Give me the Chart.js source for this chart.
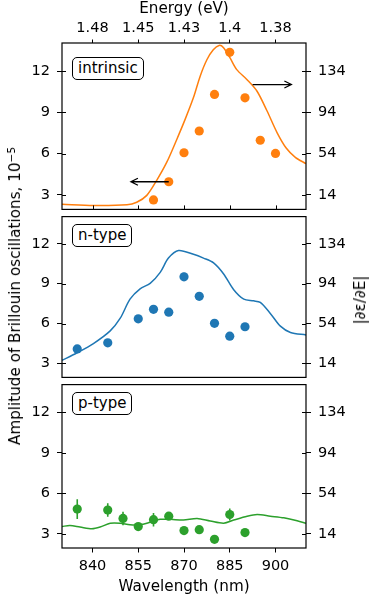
<!DOCTYPE html>
<html lang="en">
<head>
  <meta charset="UTF-8">
  <title>Brillouin oscillations</title>
  <script src="https://cdn.jsdelivr.net/npm/chart.js"></script>
  <style>
    body {
      margin: 0;
      background: #fff;
      font-family: "DejaVu Sans", sans-serif;
    }

    .figure {
      position: relative;
      width: 374px;
      height: 598px;
      overflow: hidden;
    }

    .figure canvas {
      position: absolute;
      left: 0;
    }

    .ytitle {
      position: absolute;
      font-size: 15.2px;
      white-space: nowrap;
      transform: translate(-50%, -50%) rotate(-90deg);
      color: #000;
    }

    .ytitle sup {
      font-size: 70%;
      vertical-align: 0.5em;
      line-height: 0;
    }

    .tag {
      position: absolute;
      font-size: 15px;
      line-height: 21px;
      padding: 0 5px;
      border: 1.3px solid #000;
      border-radius: 5px;
      background: #fff;
      color: #000;
    }
  </style>
</head>
<body>
  <div class="figure">
    <canvas id="panelTop" width="374" height="214" style="top:0"></canvas>
    <canvas id="panelMid" width="374" height="170" style="top:212px"></canvas>
    <canvas id="panelBot" width="374" height="218" style="top:380px"></canvas>

    <div class="ytitle" style="left:15px; top:296px">Amplitude of Brillouin oscillations, 10<sup>−5</sup></div>
    <div class="ytitle" style="left:360px; top:300px">|∂ε/∂E|</div>

    <div class="tag" style="left:72px; top:57px">intrinsic</div>
    <div class="tag" style="left:72px; top:224px">n-type</div>
    <div class="tag" style="left:72px; top:392px">p-type</div>
  </div>

  <script>
    // axes
    const wavelengthTicks = [840, 855, 870, 885, 900];
    const energyLabels = ['1.48', '1.45', '1.43', '1.4', '1.38'];
    const ampTicks = [3, 6, 9, 12];
    const derivTicks = [14, 54, 94, 134];

    // intrinsic
    const intrinsicWl = [860, 865, 870, 875, 880, 885, 890, 895, 900];
    const intrinsicAmp = [2.64, 3.96, 6.07, 7.65, 10.31, 13.37, 10.06, 6.98, 6.02];
    const intrinsicCurveWl = [830, 840.3, 851.3, 854.5, 857.8, 861.1, 864.4, 867.7, 870.4, 873.1, 875.3, 877.5, 879.6, 881.5, 882.9, 885.1, 887.3, 890.6, 893.9, 897.2, 900.5, 903.5, 906.5, 910];
    const intrinsicCurve = [5.0, 3.7, 4.4, 6.9, 13.6, 28.4, 46.0, 68.3, 87.5, 108.4, 129.2, 145.1, 154.7, 159.0, 157.0, 146.8, 135.5, 126.0, 114.8, 95.6, 74.5, 59.5, 50.5, 44.3];

    // n-type
    const nWl = [835, 845, 855, 860, 865, 870, 875, 880, 885, 890];
    const nAmp = [4.09, 4.55, 6.36, 7.07, 6.86, 9.52, 8.05, 6.02, 5.05, 5.76];
    const nErr = [0.1, 0.1, 0.15, 0.2, 0.15, 0.3, 0.2, 0.15, 0.15, 0.15];
    const nCurveWl = [830, 834.8, 840.3, 845.8, 849.1, 852.3, 855.6, 858.9, 862.2, 864.9, 868.2, 873.1, 876.4, 879.7, 883, 886.3, 889.6, 892.8, 895, 898.3, 901.6, 904.9, 910];
    const nCurve = [17.1, 24.5, 34.0, 46.7, 59.4, 78.5, 88.9, 94.3, 105.4, 119.7, 127.3, 123.5, 119.7, 114.9, 103.8, 88.0, 78.5, 76.8, 75.2, 64.2, 51.4, 45.1, 42.6];

    // p-type
    const pWl = [835, 845, 850, 855, 860, 865, 870, 875, 880, 885, 890];
    const pAmp = [4.83, 4.76, 4.14, 3.54, 4.05, 4.31, 3.24, 3.31, 2.59, 4.43, 3.09];
    const pErr = [0.73, 0.5, 0.5, 0.15, 0.5, 0.2, 0.1, 0.1, 0.1, 0.45, 0.1];
    const pCurveWl = [830, 832.6, 835.9, 839.8, 842.5, 845.8, 849.1, 852.3, 855.6, 858.9, 862.2, 865.5, 869.8, 874.3, 878.6, 883, 886.3, 890.7, 894, 898.3, 902.7, 907.1, 910];
    const pCurve = [21.2, 22.2, 20.7, 19.0, 20.7, 24.5, 24.5, 22.9, 22.9, 25.4, 28.3, 28.3, 27.6, 29.2, 26.7, 24.5, 27.6, 31.4, 33.0, 31.4, 29.8, 26.9, 24.3];

    // arrows in the intrinsic panel: [from wavelength, to wavelength, amplitude]
    const arrowToLeft = [865, 852.6, 3.96];
    const arrowToRight = [892.5, 905.2, 11.03];

    const ORANGE = '#ff7f0e';
    const BLUE = '#1f77b4';
    const GREEN = '#2ca02c';

    Chart.defaults.font.family = "'DejaVu Sans', sans-serif";
    Chart.defaults.color = '#000';

    function xy(xs, ys) {
      return xs.map((x, i) => ({x: x, y: ys[i]}));
    }

    // box around the plot + the inward half of the ticks
    function framePlugin(innerX) {
      return {
        id: 'frame',
        afterDraw(chart) {
          const a = chart.chartArea;
          const ctx = chart.ctx;
          ctx.save();
          ctx.strokeStyle = '#000';
          ctx.lineWidth = 1.2;
          ctx.strokeRect(a.left, a.top, a.right - a.left, a.bottom - a.top);
          ctx.lineWidth = 1;
          ctx.beginPath();
          chart.scales.y.ticks.forEach(t => {
            const py = Math.round(chart.scales.y.getPixelForValue(t.value)) + 0.5;
            ctx.moveTo(a.left, py); ctx.lineTo(a.left + 4, py);
          });
          chart.scales.y2.ticks.forEach(t => {
            const py = Math.round(chart.scales.y2.getPixelForValue(t.value)) + 0.5;
            ctx.moveTo(a.right, py); ctx.lineTo(a.right - 4, py);
          });
          if (innerX) {
            wavelengthTicks.forEach(v => {
              const px = Math.round(chart.scales.x.getPixelForValue(v)) + 0.5;
              ctx.moveTo(px, a.bottom); ctx.lineTo(px, a.bottom - 4);
            });
          }
          ctx.stroke();
          ctx.restore();
        }
      };
    }

    function errorBars(xs, ys, errs, color) {
      return {
        id: 'errorBars',
        beforeDatasetsDraw(chart) {
          const ctx = chart.ctx;
          const sx = chart.scales.x, sy = chart.scales.y;
          ctx.save();
          ctx.strokeStyle = color;
          ctx.lineWidth = 1.6;
          ctx.beginPath();
          xs.forEach((x, i) => {
            const px = sx.getPixelForValue(x);
            ctx.moveTo(px, sy.getPixelForValue(ys[i] - errs[i]));
            ctx.lineTo(px, sy.getPixelForValue(ys[i] + errs[i]));
          });
          ctx.stroke();
          ctx.restore();
        }
      };
    }

    const arrowsPlugin = {
      id: 'arrows',
      afterDatasetsDraw(chart) {
        const ctx = chart.ctx;
        const sx = chart.scales.x, sy = chart.scales.y;
        ctx.save();
        ctx.strokeStyle = '#000';
        ctx.lineWidth = 1.3;
        [arrowToLeft, arrowToRight].forEach(a => {
          const x0 = sx.getPixelForValue(a[0]);
          const x1 = sx.getPixelForValue(a[1]);
          const py = sy.getPixelForValue(a[2]);
          const dir = x1 > x0 ? 1 : -1;
          ctx.beginPath();
          ctx.moveTo(x0, py); ctx.lineTo(x1, py);
          ctx.moveTo(x1 - dir * 7, py - 3.5); ctx.lineTo(x1, py); ctx.lineTo(x1 - dir * 7, py + 3.5);
          ctx.stroke();
        });
        ctx.restore();
      }
    };

    function makePanel(id, cfg) {
      return new Chart(document.getElementById(id), {
        type: 'scatter',
        data: {
          datasets: [
            {
              data: xy(cfg.wl, cfg.amp),
              yAxisID: 'y',
              backgroundColor: cfg.color,
              borderColor: cfg.color,
              pointRadius: 4.6,
              pointBorderWidth: 0
            },
            {
              data: xy(cfg.curveWl, cfg.curve),
              yAxisID: 'y2',
              showLine: true,
              borderColor: cfg.color,
              borderWidth: 1.5,
              pointRadius: 0,
              tension: 0.3
            }
          ]
        },
        options: {
          responsive: false,
          animation: false,
          layout: { padding: cfg.padding },
          plugins: { legend: { display: false }, tooltip: { enabled: false } },
          scales: {
            x: {
              type: 'linear',
              min: 830,
              max: 910,
              position: cfg.xPos,
              display: cfg.xShow,
              afterBuildTicks: s => { s.ticks = wavelengthTicks.map(v => ({value: v})); },
              afterFit: s => { s.height = cfg.xHeight; s.paddingLeft = 0; s.paddingRight = 0; },
              grid: { drawOnChartArea: false, tickLength: cfg.xTick, color: '#000', lineWidth: 1 },
              border: { display: false },
              ticks: { font: { size: 14.5 }, padding: cfg.xPad, maxRotation: 0, callback: cfg.xLabel },
              title: { display: true, text: cfg.xTitle, font: { size: 15.2 }, padding: cfg.xTitlePad }
            },
            y: {
              type: 'linear',
              position: 'left',
              min: 1.95,
              max: 14.05,
              afterBuildTicks: s => { s.ticks = ampTicks.map(v => ({value: v})); },
              afterFit: s => { s.width = 62; s.paddingTop = 0; s.paddingBottom = 0; },
              grid: { drawOnChartArea: false, tickLength: 5, color: '#000', lineWidth: 1 },
              border: { display: false },
              ticks: { font: { size: 14.5 }, padding: 7 }
            },
            y2: {
              type: 'linear',
              position: 'right',
              min: 0,
              max: 161.33,
              afterBuildTicks: s => { s.ticks = derivTicks.map(v => ({value: v})); },
              afterFit: s => { s.width = 68; s.paddingTop = 0; s.paddingBottom = 0; },
              grid: { drawOnChartArea: false, tickLength: 5, color: '#000', lineWidth: 1 },
              border: { display: false },
              ticks: { font: { size: 14.5 }, padding: 7 }
            }
          }
        },
        plugins: [framePlugin(cfg.innerX)].concat(cfg.extra)
      });
    }

    makePanel('panelTop', {
      wl: intrinsicWl, amp: intrinsicAmp, curveWl: intrinsicCurveWl, curve: intrinsicCurve,
      color: ORANGE,
      padding: { top: 0, bottom: 1, left: 0, right: 0 },
      xPos: 'top', xShow: true, xHeight: 43, xTick: 3.5, xPad: 3,
      xLabel: (v, i) => energyLabels[i],
      xTitle: 'Energy (eV)', xTitlePad: { top: 0, bottom: 0 },
      innerX: true,
      extra: [arrowsPlugin]
    });

    makePanel('panelMid', {
      wl: nWl, amp: nAmp, curveWl: nCurveWl, curve: nCurve,
      color: BLUE,
      padding: { top: 1, bottom: 1, left: 0, right: 0 },
      xPos: 'bottom', xShow: false, xHeight: 0, xTick: 4, xPad: 5,
      xLabel: v => v,
      xTitle: '', xTitlePad: 0,
      innerX: false,
      extra: [errorBars(nWl, nAmp, nErr, BLUE)]
    });

    makePanel('panelBot', {
      wl: pWl, amp: pAmp, curveWl: pCurveWl, curve: pCurve,
      color: GREEN,
      padding: { top: 1, bottom: 0, left: 0, right: 0 },
      xPos: 'bottom', xShow: true, xHeight: 50, xTick: 4.5, xPad: 5,
      xLabel: v => v,
      xTitle: 'Wavelength (nm)', xTitlePad: { top: 0, bottom: 2 },
      innerX: false,
      extra: [errorBars(pWl, pAmp, pErr, GREEN)]
    });
  </script>
</body>
</html>
